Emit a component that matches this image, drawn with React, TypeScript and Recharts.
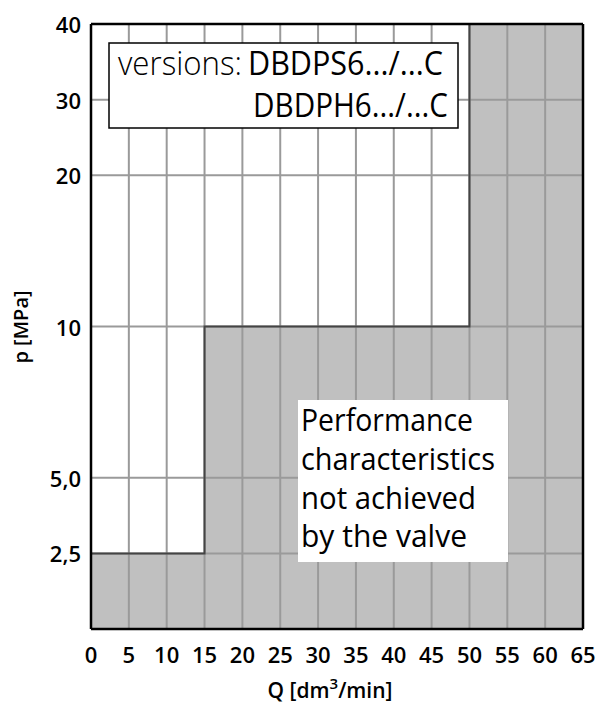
import React from "react";
import {
  ComposedChart,
  Area,
  Line,
  XAxis,
  YAxis,
  ReferenceLine,
} from "recharts";

// flow axis [dm3/min]
const flowTicks = [0, 5, 10, 15, 20, 25, 30, 35, 40, 45, 50, 55, 60, 65];
// pressure axis [MPa] - the grid is stepped, not linear
const pressureTicks = [2.5, 5, 10, 20, 30, 40];
const pressureLabels = ["2,5", "5,0", "10", "20", "30", "40"];
const pressureRows = [1, 2, 4, 6, 7, 8];

// upper limit of the region the valve cannot reach
const limitFlow = [0, 15, 50, 65];
const limitPressure = [2.5, 10, 40, 40];

const rowOf = (p: number) => pressureRows[pressureTicks.indexOf(p)];

const data = limitFlow.map((q, i) => ({ q, row: rowOf(limitPressure[i]) }));

const FONT = "'Open Sans', 'DejaVu Sans', sans-serif";
const GRID = "#9a9a9a";

function XTick({ x, y, payload }: any) {
  return (
    <text x={x} y={y + 34} textAnchor="middle" fontSize={22} fontWeight={600} fill="#000" fontFamily={FONT}>
      {payload.value}
    </text>
  );
}

function YTick({ x, y, payload }: any) {
  const idx = pressureRows.indexOf(payload.value);
  return (
    <text x={x - 10} y={y + 9} textAnchor="end" fontSize={22} fontWeight={600} fill="#000" fontFamily={FONT}>
      {pressureLabels[idx]}
    </text>
  );
}

export default function App() {
  return (
    <div style={{ position: "relative", width: 589, height: 700, marginLeft: 8, paddingTop: 8, fontFamily: FONT }}>
      <style>{"html,body{margin:0;padding:0;overflow:hidden}"}</style>
      <ComposedChart
        width={589}
        height={700}
        data={data}
        margin={{ top: 16, right: 14, bottom: 0, left: 0 }}
      >
        <XAxis
          dataKey="q"
          type="number"
          domain={[0, 65]}
          ticks={flowTicks}
          interval={0}
          height={79}
          tickSize={0}
          tickMargin={0}
          tickLine={false}
          axisLine={{ stroke: "#000", strokeWidth: 2.5 }}
          tick={<XTick />}
        />
        <YAxis
          type="number"
          domain={[0, 8]}
          ticks={pressureRows}
          interval={0}
          width={83}
          tickSize={0}
          tickMargin={0}
          tickLine={false}
          axisLine={{ stroke: "#000", strokeWidth: 2.5 }}
          tick={<YTick />}
        />
        <Area
          type="stepAfter"
          dataKey="row"
          stroke="none"
          fill="#c0c0c0"
          fillOpacity={1}
          baseValue={0}
          isAnimationActive={false}
        />
        {flowTicks.slice(1, -1).map((q) => (
          <ReferenceLine key={"x" + q} x={q} stroke={GRID} strokeWidth={2} />
        ))}
        {pressureRows.slice(0, -1).map((r) => (
          <ReferenceLine key={"y" + r} y={r} stroke={GRID} strokeWidth={2} />
        ))}
        <Line
          type="stepAfter"
          dataKey="row"
          stroke="#444"
          strokeWidth={2}
          dot={false}
          activeDot={false}
          isAnimationActive={false}
        />
        <ReferenceLine y={8} stroke="#000" strokeWidth={2.5} />
        <ReferenceLine x={65} stroke="#000" strokeWidth={2.5} />
      </ComposedChart>
      <svg
        width={589}
        height={700}
        style={{ position: "absolute", left: 0, top: 8, pointerEvents: "none" }}
      >
        <rect x={101} y={35} width={349} height={85} fill="#fff" stroke="#000" strokeWidth={1.5} />
        <text x={110} y={67} fontSize={33} fontWeight={300} textLength={124} lengthAdjust="spacingAndGlyphs">
          versions:
        </text>
        <text x={240} y={67} fontSize={33} fontWeight={500} textLength={195} lengthAdjust="spacingAndGlyphs">
          DBDPS6.../...C
        </text>
        <text x={245} y={109} fontSize={33} fontWeight={500} textLength={195} lengthAdjust="spacingAndGlyphs">
          DBDPH6.../...C
        </text>

        <rect x={290} y={392} width={210} height={162} fill="#fff" />
        <text x={293} y={423} fontSize={31} fontWeight={500} textLength={172} lengthAdjust="spacingAndGlyphs">
          Performance
        </text>
        <text x={293} y={462} fontSize={31} fontWeight={500} textLength={194} lengthAdjust="spacingAndGlyphs">
          characteristics
        </text>
        <text x={293} y={501} fontSize={31} fontWeight={500} textLength={175} lengthAdjust="spacingAndGlyphs">
          not achieved
        </text>
        <text x={293} y={539} fontSize={31} fontWeight={500} textLength={166} lengthAdjust="spacingAndGlyphs">
          by the valve
        </text>

        <text
          x={20}
          y={319}
          transform="rotate(-90 20 319)"
          textAnchor="middle"
          fontSize={20}
          fontWeight={600}
        >
          p [MPa]
        </text>
        <text x={322} y={690} textAnchor="middle" fontSize={21} fontWeight={600}>
          Q [dm
          <tspan fontSize={15} dy={-9}>3</tspan>
          <tspan dy={9}>/min]</tspan>
        </text>
      </svg>
    </div>
  );
}
